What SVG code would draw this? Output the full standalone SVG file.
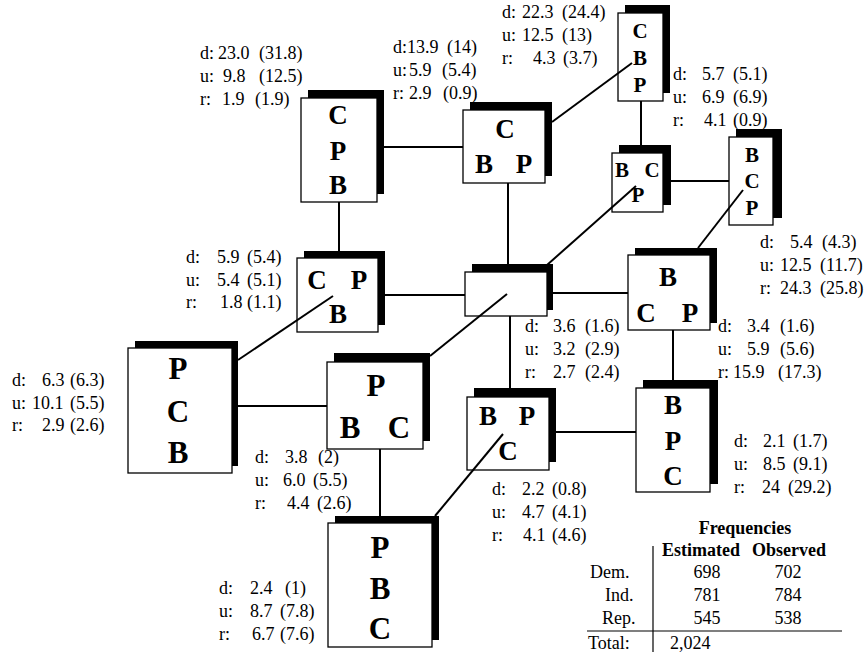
<svg xmlns="http://www.w3.org/2000/svg" width="868" height="657" viewBox="0 0 868 657">
  <style>
    .sh { fill: #000; }
    .bx { fill: #fff; stroke: #000; stroke-width: 1.3; }
    .L { font-family: "Liberation Serif", "Times New Roman", serif; font-weight: bold; font-size: 31px; text-anchor: middle; }
    .M { font-family: "Liberation Serif", "Times New Roman", serif; font-weight: bold; font-size: 27px; text-anchor: middle; }
    .S { font-family: "Liberation Serif", "Times New Roman", serif; font-weight: bold; font-size: 21px; text-anchor: middle; }
    .lbl { font-family: "Liberation Serif", "Times New Roman", serif; font-size: 18px; fill: #000; }
    .th { font-family: "Liberation Serif", "Times New Roman", serif; font-size: 18px; font-weight: bold; }
    .cn { stroke: #000; stroke-width: 2; fill: none; }
    .rule { stroke: #000; stroke-width: 1.2; fill: none; }
  </style>

  <!-- States: shadowed box, party ordering inside, d/u/r values beside -->
  <g id="state-c-p-b">
    <rect class="sh" x="308" y="90" width="76" height="104"/>
    <rect class="bx" x="301" y="98" width="76" height="104"/>
    <text class="M" x="338" y="124">C</text>
    <text class="M" x="338" y="160">P</text>
    <text class="M" x="338" y="194">B</text>
    <text class="lbl" y="59"><tspan x="200">d:</tspan><tspan x="218">23.0</tspan><tspan x="259">(31.8)</tspan></text>
    <text class="lbl" y="82"><tspan x="200">u:</tspan><tspan x="223">9.8</tspan><tspan x="259">(12.5)</tspan></text>
    <text class="lbl" y="105"><tspan x="200">r:</tspan><tspan x="222">1.9</tspan><tspan x="255">(1.9)</tspan></text>
  </g>

  <g id="state-c-bp">
    <rect class="sh" x="470" y="102" width="82" height="74"/>
    <rect class="bx" x="463" y="110" width="82" height="73"/>
    <text class="M" x="505" y="138">C</text>
    <text class="M" x="484" y="173">B</text>
    <text class="M" x="524" y="173">P</text>
    <text class="lbl" y="53"><tspan x="393">d:13.9</tspan><tspan x="447">(14)</tspan></text>
    <text class="lbl" y="76"><tspan x="393">u:</tspan><tspan x="409">5.9</tspan><tspan x="442">(5.4)</tspan></text>
    <text class="lbl" y="99"><tspan x="393">r:</tspan><tspan x="409">2.9</tspan><tspan x="443">(0.9)</tspan></text>
  </g>

  <g id="state-c-b-p">
    <rect class="sh" x="625" y="5" width="45" height="88"/>
    <rect class="bx" x="618" y="13" width="45" height="88"/>
    <text class="S" x="640" y="38">C</text>
    <text class="S" x="640" y="65">B</text>
    <text class="S" x="640" y="92">P</text>
    <text class="lbl" y="18"><tspan x="502">d:</tspan><tspan x="522">22.3</tspan><tspan x="562">(24.4)</tspan></text>
    <text class="lbl" y="41"><tspan x="502">u:</tspan><tspan x="522">12.5</tspan><tspan x="562">(13)</tspan></text>
    <text class="lbl" y="64"><tspan x="502">r:</tspan><tspan x="533">4.3</tspan><tspan x="563">(3.7)</tspan></text>
  </g>

  <g id="state-bc-p">
    <rect class="sh" x="619" y="145" width="52" height="60"/>
    <rect class="bx" x="612" y="153" width="51" height="59"/>
    <text class="S" x="622" y="177">B</text>
    <text class="S" x="652" y="177">C</text>
    <text class="S" x="638" y="202">P</text>
    <text class="lbl" y="80"><tspan x="673">d:</tspan><tspan x="702">5.7</tspan><tspan x="733">(5.1)</tspan></text>
    <text class="lbl" y="103"><tspan x="673">u:</tspan><tspan x="702">6.9</tspan><tspan x="733">(6.9)</tspan></text>
    <text class="lbl" y="126"><tspan x="673">r:</tspan><tspan x="704">4.1</tspan><tspan x="733">(0.9)</tspan></text>
  </g>

  <g id="state-b-c-p">
    <rect class="sh" x="736" y="129" width="46" height="89"/>
    <rect class="bx" x="729" y="137" width="44" height="88"/>
    <text class="S" x="752" y="162">B</text>
    <text class="S" x="752" y="188">C</text>
    <text class="S" x="752" y="215">P</text>
    <text class="lbl" y="248"><tspan x="760">d:</tspan><tspan x="790">5.4</tspan><tspan x="822">(4.3)</tspan></text>
    <text class="lbl" y="271"><tspan x="760">u:</tspan><tspan x="780">12.5</tspan><tspan x="820">(11.7)</tspan></text>
    <text class="lbl" y="294"><tspan x="760">r:</tspan><tspan x="780">24.3</tspan><tspan x="820">(25.8)</tspan></text>
  </g>

  <g id="state-b-cp">
    <rect class="sh" x="635" y="248" width="82" height="75"/>
    <rect class="bx" x="628" y="255" width="82" height="75"/>
    <text class="M" x="668" y="286">B</text>
    <text class="M" x="646" y="322">C</text>
    <text class="M" x="690" y="322">P</text>
    <text class="lbl" y="332"><tspan x="718">d:</tspan><tspan x="747">3.4</tspan><tspan x="780">(1.6)</tspan></text>
    <text class="lbl" y="355"><tspan x="718">u:</tspan><tspan x="747">5.9</tspan><tspan x="780">(5.6)</tspan></text>
    <text class="lbl" y="378"><tspan x="718">r:</tspan><tspan x="733">15.9</tspan><tspan x="778">(17.3)</tspan></text>
  </g>

  <g id="state-center">
    <rect class="sh" x="472" y="264" width="81" height="46"/>
    <rect class="bx" x="465" y="272" width="82" height="44"/>
    <text class="lbl" y="332"><tspan x="525">d:</tspan><tspan x="553">3.6</tspan><tspan x="585">(1.6)</tspan></text>
    <text class="lbl" y="355"><tspan x="525">u:</tspan><tspan x="553">3.2</tspan><tspan x="585">(2.9)</tspan></text>
    <text class="lbl" y="378"><tspan x="525">r:</tspan><tspan x="553">2.7</tspan><tspan x="585">(2.4)</tspan></text>
  </g>

  <g id="state-cp-b">
    <rect class="sh" x="304" y="251" width="81" height="74"/>
    <rect class="bx" x="297" y="258" width="81" height="74"/>
    <text class="M" x="317" y="289">C</text>
    <text class="M" x="359" y="289">P</text>
    <text class="M" x="338" y="323">B</text>
    <text class="lbl" y="263"><tspan x="186">d:</tspan><tspan x="217">5.9</tspan><tspan x="247">(5.4)</tspan></text>
    <text class="lbl" y="286"><tspan x="186">u:</tspan><tspan x="217">5.4</tspan><tspan x="247">(5.1)</tspan></text>
    <text class="lbl" y="308"><tspan x="186">r:</tspan><tspan x="220">1.8</tspan><tspan x="247">(1.1)</tspan></text>
  </g>

  <g id="state-p-c-b">
    <rect class="sh" x="135" y="341" width="103" height="125"/>
    <rect class="bx" x="128" y="348" width="104" height="125"/>
    <text class="L" x="178" y="379">P</text>
    <text class="L" x="178" y="422">C</text>
    <text class="L" x="178" y="463">B</text>
    <text class="lbl" y="386"><tspan x="12">d:</tspan><tspan x="42">6.3</tspan><tspan x="70">(6.3)</tspan></text>
    <text class="lbl" y="409"><tspan x="12">u:</tspan><tspan x="32">10.1</tspan><tspan x="70">(5.5)</tspan></text>
    <text class="lbl" y="431"><tspan x="12">r:</tspan><tspan x="42">2.9</tspan><tspan x="70">(2.6)</tspan></text>
  </g>

  <g id="state-p-bc">
    <rect class="sh" x="334" y="353" width="96" height="88"/>
    <rect class="bx" x="327" y="362" width="96" height="87"/>
    <text class="L" x="376" y="396">P</text>
    <text class="L" x="350" y="438">B</text>
    <text class="L" x="399" y="438">C</text>
    <text class="lbl" y="463"><tspan x="255">d:</tspan><tspan x="285">3.8</tspan><tspan x="318">(2)</tspan></text>
    <text class="lbl" y="486"><tspan x="255">u:</tspan><tspan x="283">6.0</tspan><tspan x="313">(5.5)</tspan></text>
    <text class="lbl" y="509"><tspan x="255">r:</tspan><tspan x="287">4.4</tspan><tspan x="317">(2.6)</tspan></text>
  </g>

  <g id="state-bp-c">
    <rect class="sh" x="474" y="388" width="82" height="74"/>
    <rect class="bx" x="467" y="397" width="82" height="73"/>
    <text class="M" x="488" y="425">B</text>
    <text class="M" x="527" y="425">P</text>
    <text class="M" x="508" y="460">C</text>
    <text class="lbl" y="495"><tspan x="492">d:</tspan><tspan x="522">2.2</tspan><tspan x="552">(0.8)</tspan></text>
    <text class="lbl" y="518"><tspan x="492">u:</tspan><tspan x="522">4.7</tspan><tspan x="552">(4.1)</tspan></text>
    <text class="lbl" y="541"><tspan x="492">r:</tspan><tspan x="523">4.1</tspan><tspan x="552">(4.6)</tspan></text>
  </g>

  <g id="state-b-p-c">
    <rect class="sh" x="643" y="380" width="75" height="104"/>
    <rect class="bx" x="636" y="388" width="74" height="104"/>
    <text class="M" x="673" y="414">B</text>
    <text class="M" x="673" y="450">P</text>
    <text class="M" x="673" y="485">C</text>
    <text class="lbl" y="447"><tspan x="734">d:</tspan><tspan x="763">2.1</tspan><tspan x="793">(1.7)</tspan></text>
    <text class="lbl" y="470"><tspan x="734">u:</tspan><tspan x="763">8.5</tspan><tspan x="793">(9.1)</tspan></text>
    <text class="lbl" y="493"><tspan x="734">r:</tspan><tspan x="762">24</tspan><tspan x="788">(29.2)</tspan></text>
  </g>

  <g id="state-p-b-c">
    <rect class="sh" x="335" y="516" width="104" height="124"/>
    <rect class="bx" x="328" y="523" width="104" height="124"/>
    <text class="L" x="380" y="558">P</text>
    <text class="L" x="380" y="599">B</text>
    <text class="L" x="380" y="639">C</text>
    <text class="lbl" y="594"><tspan x="219">d:</tspan><tspan x="250">2.4</tspan><tspan x="285">(1)</tspan></text>
    <text class="lbl" y="617"><tspan x="219">u:</tspan><tspan x="250">8.7</tspan><tspan x="280">(7.8)</tspan></text>
    <text class="lbl" y="640"><tspan x="219">r:</tspan><tspan x="252">6.7</tspan><tspan x="280">(7.6)</tspan></text>
  </g>

  <!-- Transitions between adjacent orderings -->
  <g id="connectors">
    <line class="cn" x1="384" y1="147" x2="463" y2="147"/>
    <line class="cn" x1="339" y1="202" x2="339" y2="251"/>
    <line class="cn" x1="508" y1="183" x2="508" y2="264"/>
    <line class="cn" x1="552" y1="122" x2="632" y2="63"/>
    <line class="cn" x1="641" y1="101" x2="641" y2="146"/>
    <line class="cn" x1="671" y1="181" x2="729" y2="181"/>
    <line class="cn" x1="743" y1="190" x2="698" y2="248"/>
    <line class="cn" x1="636" y1="186" x2="547" y2="265"/>
    <line class="cn" x1="553" y1="293" x2="628" y2="293"/>
    <line class="cn" x1="385" y1="295" x2="465" y2="295"/>
    <line class="cn" x1="507" y1="294" x2="430" y2="356"/>
    <line class="cn" x1="510" y1="316" x2="510" y2="388"/>
    <line class="cn" x1="333" y1="296" x2="238" y2="360"/>
    <line class="cn" x1="238" y1="406" x2="327" y2="406"/>
    <line class="cn" x1="380" y1="449" x2="380" y2="516"/>
    <line class="cn" x1="503" y1="434" x2="435" y2="516"/>
    <line class="cn" x1="556" y1="432" x2="636" y2="432"/>
    <line class="cn" x1="673" y1="330" x2="673" y2="380"/>
  </g>

  <!-- Frequency table -->
  <g id="frequencies">
    <text class="th" x="745" y="534" text-anchor="middle">Frequencies</text>
    <text class="th" x="662" y="556">Estimated</text>
    <text class="th" x="752" y="556">Observed</text>
    <text class="lbl" x="590" y="578">Dem.</text>
    <text class="lbl" x="605" y="601">Ind.</text>
    <text class="lbl" x="602" y="624">Rep.</text>
    <text class="lbl" x="588" y="649">Total:</text>
    <text class="lbl" x="707" y="578" text-anchor="middle">698</text>
    <text class="lbl" x="707" y="601" text-anchor="middle">781</text>
    <text class="lbl" x="707" y="624" text-anchor="middle">545</text>
    <text class="lbl" x="788" y="578" text-anchor="middle">702</text>
    <text class="lbl" x="788" y="601" text-anchor="middle">784</text>
    <text class="lbl" x="788" y="624" text-anchor="middle">538</text>
    <text class="lbl" x="670" y="649">2,024</text>
    <line class="rule" x1="587" y1="631" x2="842" y2="631"/>
    <line class="rule" x1="653" y1="546" x2="653" y2="652"/>
  </g>
</svg>
